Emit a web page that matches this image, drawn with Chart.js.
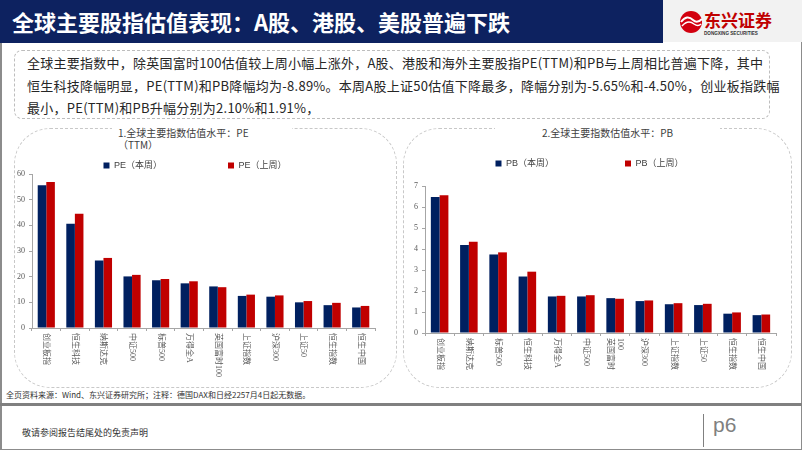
<!DOCTYPE html>
<html>
<head>
<meta charset="utf-8">
<script src="https://cdn.jsdelivr.net/npm/chart.js@4.4.0/dist/chart.umd.min.js"></script>
<style>
  body { margin: 0; width: 802px; height: 451px; overflow: hidden; background: #fff; font-family: "Noto Sans CJK SC", sans-serif; position: relative; }
  .abs { position: absolute; }
  .frame { left: 0; top: 0; width: 799px; height: 448px; border: 1px solid #8c8c8c; border-left: 2px solid #8c8c8c; }
  .header { left: 0; top: 0; width: 663px; height: 43px; background: #0d2260; }
  .header span { position: absolute; left: 12px; top: 0; line-height: 43px; color: #fff; font-size: 22px; font-weight: 700; white-space: nowrap; }
  .logo { left: 663px; top: 0; width: 139px; height: 42px; background: #f2f2f2; }
  .intro { left: 14px; top: 50px; width: 742px; height: 66px; border: 1px dashed #bdbdbd; border-radius: 8px; padding: 1px 0 0 12px; font-size: 13px; line-height: 22.5px; letter-spacing: 0.25px; color: #262626; white-space: nowrap; }
  .panel { border: 1px dashed #c8c8c8; border-radius: 36px; top: 128px; height: 258px; }
  .ptitle { background: #fff; font-size: 10px; line-height: 12px; color: #404040; }
  .note { left: 6px; top: 389px; font-size: 8px; color: #333; white-space: nowrap; }
  .rule { left: 0; top: 403px; width: 802px; height: 3px; background: #808080; }
  .foot { left: 22px; top: 426px; font-size: 9px; color: #333; }
  .bar { left: 703px; top: 414px; width: 1px; height: 33px; background: #808080; }
  .page { left: 713px; top: 413px; font: 21px "Liberation Sans", sans-serif; color: #808080; }
  canvas { position: absolute; }
</style>
</head>
<body>
<div class="abs frame"></div>
<div class="abs header"><span>全球主要股指估值表现：A股、港股、美股普遍下跌</span></div>
<div class="abs logo">
  <svg width="139" height="42" viewBox="0 0 139 42">
    <circle cx="28" cy="22" r="11" fill="#d2000f"/>
    <path d="M18 22 Q24 14 30 20 Q34 24 39 19" stroke="#fff" stroke-width="2" fill="none"/>
    <path d="M19 26 Q25 19 31 24 Q35 27 38 24" stroke="#fff" stroke-width="1.5" fill="none"/>
    <text x="41" y="27" font-size="17" font-weight="700" fill="#c00000" font-family="Noto Sans CJK SC">东兴证券</text>
    <text x="41" y="35" font-size="4.6" font-weight="700" fill="#333" font-family="Liberation Sans">DONGXING SECURITIES</text>
  </svg>
</div>
<div class="abs intro">全球主要指数中，除英国富时100估值较上周小幅上涨外，A股、港股和海外主要股指PE(TTM)和PB与上周相比普遍下降，其中<br>恒生科技降幅明显，PE(TTM)和PB降幅均为-8.89%。本周A股上证50估值下降最多，降幅分别为-5.65%和-4.50%，创业板指跌幅<br>最小，PE(TTM)和PB升幅分别为2.10%和1.91%，</div>

<div class="abs panel" style="left:14px;width:381px;"></div>
<div class="abs panel" style="left:403px;width:387px;"></div>
<div class="abs ptitle" style="left:112px;top:127px;width:174px;padding-left:6px;">1.全球主要指数估值水平：PE<br>（TTM）</div>
<div class="abs ptitle" style="left:495px;top:127px;width:225px;text-align:center;">2.全球主要指数估值水平：PB</div>

<canvas id="peChart" style="left:15px;top:95px;" width="380" height="290"></canvas>
<canvas id="pbChart" style="left:403px;top:88px;" width="387" height="297"></canvas>

<div class="abs note">全页资料来源：Wind、东兴证券研究所；注释：德国DAX和日经2257月4日起无数据。</div>
<div class="abs rule"></div>
<div class="abs foot">敬请参阅报告结尾处的免责声明</div>
<div class="abs bar"></div>
<div class="abs page">p6</div>

<script>
// PE (TTM) chart
const peLabels = ['创业板指', '恒生科技', '纳斯达克', '中证500', '标普500', '万得全A', '英国富时100', '上证指数', '沪深300', '上证50', '恒生指数', '恒生中国'];
const peThisWeek = [55.6, 40.6, 26.3, 20.1, 18.6, 17.4, 16.2, 12.5, 12.2, 10.0, 8.9, 8.0];
const peLastWeek = [56.9, 44.5, 27.3, 20.7, 19.1, 18.2, 15.9, 13.0, 12.7, 10.5, 9.8, 8.6];
const peTicks = [0, 10, 20, 30, 40, 50, 60];

// PB chart
const pbLabels = ['创业板指', '纳斯达克', '标普500', '恒生科技', '万得全A', '中证500', ['英国富时', '100'], '沪深300', '上证指数', '上证50', '恒生指数', '恒生中国'];
const pbThisWeek = [6.48, 4.19, 3.74, 2.69, 1.74, 1.74, 1.66, 1.52, 1.37, 1.33, 0.92, 0.85];
const pbLastWeek = [6.56, 4.34, 3.84, 2.92, 1.77, 1.80, 1.63, 1.55, 1.42, 1.39, 0.98, 0.88];
const pbTicks = [0, 1, 2, 3, 4, 5, 6, 7];

const navy = '#002060';
const red = '#c00000';
const axisGrey = '#a6a6a6';

// category names are written top-down below the axis, like the Excel original
const verticalLabels = {
    id: 'verticalLabels',
    afterDraw(chart) {
        const ctx = chart.ctx;
        const xs = chart.scales.x;
        ctx.save();
        ctx.fillStyle = '#595959';
        ctx.font = '8px "Liberation Serif", "Noto Sans CJK SC"';
        ctx.textAlign = 'left';
        ctx.textBaseline = 'middle';
        chart.data.labels.forEach((label, i) => {
            const lines = [].concat(label);
            const px = xs.getPixelForTick(i);
            lines.forEach((line, j) => {
                ctx.save();
                ctx.translate(px + (j - (lines.length - 1) / 2) * 10, xs.top + 5);
                ctx.rotate(Math.PI / 2);
                ctx.fillText(line, 0, 0);
                ctx.restore();
            });
        });
        ctx.restore();
    }
};

// fixes the gap between the legend row and the plot
function legendHeight(h) {
    return {
        id: 'legendHeight',
        afterInit(chart) {
            const legend = chart.legend;
            const fit = legend.fit;
            legend.fit = function () { fit.call(this); this.height = h; };
        }
    };
}

function makeChart(id, labels, thisWeek, lastWeek, names, ticks, opt) {
    return new Chart(document.getElementById(id).getContext('2d'), {
        type: 'bar',
        data: {
            labels: labels,
            datasets: [{
                label: names[0],
                data: thisWeek,
                backgroundColor: navy
            }, {
                label: names[1],
                data: lastWeek,
                backgroundColor: red
            }]
        },
        options: {
            responsive: false,
            animation: false,
            layout: { padding: { left: 0, right: opt.right, top: 0, bottom: 0 } },
            datasets: { bar: { barPercentage: 1, categoryPercentage: 0.6 } },
            plugins: {
                legend: {
                    position: 'top',
                    labels: {
                        boxWidth: 6,
                        boxHeight: 6,
                        padding: opt.legendGap,
                        color: '#404040',
                        font: { family: '"Liberation Sans", "Noto Sans CJK SC"', size: 9 }
                    }
                },
                tooltip: { enabled: false }
            },
            scales: {
                x: {
                    grid: { display: true, drawOnChartArea: false, tickLength: 3, color: axisGrey },
                    border: { color: axisGrey },
                    ticks: { display: false },
                    afterFit(scale) { scale.height = opt.xHeight; }
                },
                y: {
                    min: ticks[0],
                    max: ticks[ticks.length - 1],
                    afterBuildTicks(scale) { scale.ticks = ticks.map(v => ({ value: v })); },
                    grid: { drawOnChartArea: false, tickLength: 3, color: axisGrey },
                    border: { color: axisGrey },
                    ticks: {
                        padding: 4,
                        color: '#595959',
                        font: { family: '"Liberation Serif"', size: 8 }
                    },
                    afterFit(scale) { scale.width = opt.yWidth; }
                }
            }
        },
        plugins: [verticalLabels, legendHeight(opt.legendH)]
    });
}

makeChart('peChart', peLabels, peThisWeek, peLastWeek, ['PE（本周）', 'PE（上周）'], peTicks,
    { right: 20, legendGap: 66, legendH: 79, xHeight: 57, yWidth: 17 });
makeChart('pbChart', pbLabels, pbThisWeek, pbLastWeek, ['PB（本周）', 'PB（上周）'], pbTicks,
    { right: 14, legendGap: 71, legendH: 98, xHeight: 52, yWidth: 22 });
</script>
</body>
</html>
